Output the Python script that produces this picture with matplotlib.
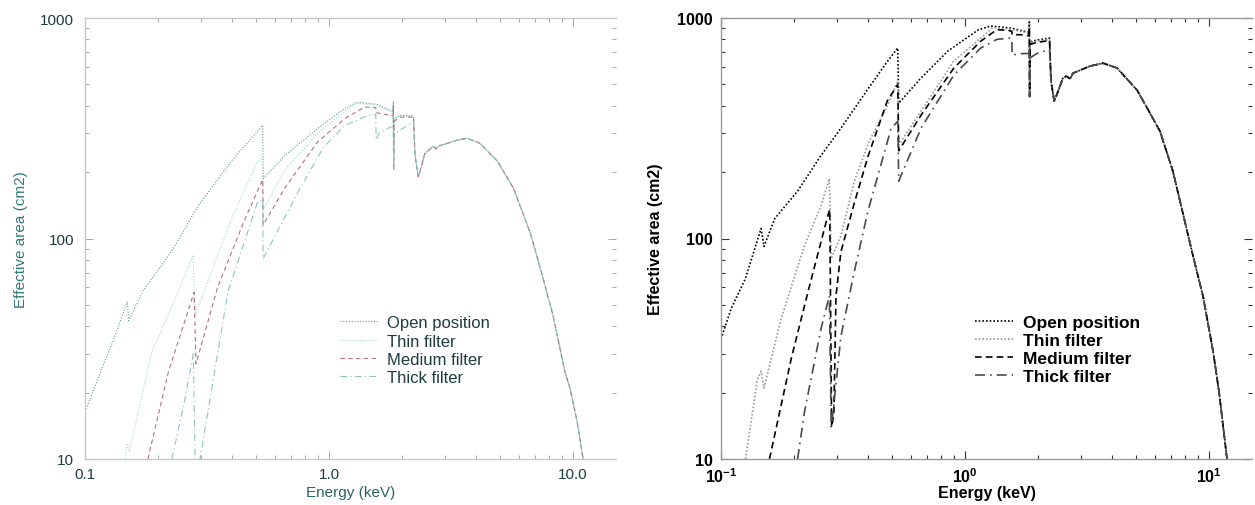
import matplotlib
matplotlib.use('Agg')
import matplotlib.pyplot as plt
from matplotlib.ticker import FixedLocator, FixedFormatter, LogLocator, NullFormatter

plt.rcParams['font.family'] = 'sans-serif'
plt.rcParams['font.sans-serif'] = ['Liberation Sans', 'DejaVu Sans']
plt.rcParams['mathtext.fontset'] = 'custom'
plt.rcParams['mathtext.rm'] = 'Liberation Sans'
plt.rcParams['mathtext.bf'] = 'Liberation Sans:bold'

labels = ['Open position', 'Thin filter', 'Medium filter', 'Thick filter']

# ---- left panel (MOS) : low-energy part per filter ----
mos_open_E = [0.1, 0.11, 0.13, 0.149, 0.151, 0.173, 0.207, 0.23, 0.29, 0.40, 0.535, 0.537,
              0.66, 0.90, 1.16, 1.30, 1.57, 1.78, 1.83, 1.835, 1.84, 1.85, 1.95, 2.22]
mos_open_A = [16.4, 21.5, 34, 51.7, 42.4, 58, 76, 90, 140, 226, 326, 187,
              238, 316, 389, 415, 406, 382, 378, 420, 204, 350, 362, 359]

mos_thin_E = [0.146, 0.149, 0.152, 0.155, 0.188, 0.234, 0.277, 0.283, 0.35, 0.404, 0.51, 0.535, 0.537,
              0.66, 0.90, 1.16, 1.30, 1.57, 1.78, 1.83, 1.835, 1.84, 1.85, 1.95, 2.22]
mos_thin_A = [10, 11.8, 10.8, 12, 30.6, 53, 84, 45, 84, 127, 224, 235, 135,
              205, 300, 378, 410, 402, 378, 374, 415, 204, 348, 360, 357]

mos_med_E = [0.181, 0.22, 0.28, 0.285, 0.351, 0.453, 0.535, 0.537,
             0.66, 0.90, 1.16, 1.40, 1.555, 1.56, 1.78, 1.83, 1.835, 1.84, 1.85, 1.95, 2.22]
mos_med_A = [10, 25, 57, 27, 61, 123, 185, 115,
             170, 275, 350, 395, 392, 372, 362, 360, 400, 204, 340, 355, 355]

mos_thick_E = [0.227, 0.255, 0.278, 0.283, 0.296, 0.385, 0.51, 0.535, 0.537,
               0.75, 0.95, 1.16, 1.45, 1.555, 1.56, 1.6, 1.78, 1.83, 1.835, 1.84, 1.85, 2.0, 2.22]
mos_thick_A = [10, 18, 30, 9, 10, 57, 147, 150, 81,
               164, 260, 325, 362, 365, 280, 300, 320, 322, 360, 205, 300, 315, 340]

# shared high-energy part (MOS)
mos_tail_E = [2.25, 2.32, 2.34, 2.47, 2.6, 2.67, 2.75, 2.8, 3.05, 3.3, 3.68, 4.16, 4.9, 5.7,
              6.7, 7.54, 8.28, 9.27, 9.73, 10.4, 11.0]
mos_tail_A = [240, 191, 195, 243, 255, 262, 255, 262, 270, 278, 285, 270, 224, 169,
              105, 66, 44.7, 24.8, 20.8, 14.7, 10]

# ---- right panel (pn) : low-energy part per filter ----
pn_open_E = [0.1, 0.11, 0.126, 0.146, 0.150, 0.166, 0.206, 0.257, 0.31, 0.386, 0.482, 0.53, 0.535,
             0.66, 0.85, 1.13, 1.27, 1.53, 1.73, 1.83, 1.835, 1.84, 1.85, 1.97, 2.22]
pn_open_A = [35, 48, 66, 111, 92, 123, 164, 238, 316, 450, 638, 731, 411,
             534, 708, 882, 920, 901, 873, 860, 960, 447, 780, 794, 811]

pn_thin_E = [0.126, 0.141, 0.146, 0.150, 0.176, 0.22, 0.257, 0.278, 0.283, 0.31, 0.352, 0.405, 0.482,
             0.53, 0.535, 0.66, 0.90, 1.16, 1.30, 1.53, 1.73, 1.83, 1.835, 1.84, 1.85, 1.97, 2.22]
pn_thin_A = [10, 23, 25, 21, 43, 93, 141, 187, 81, 103, 182, 276, 402,
             517, 265, 378, 638, 811, 905, 890, 865, 850, 940, 450, 775, 785, 800]

pn_med_E = [0.158, 0.194, 0.227, 0.274, 0.279, 0.284, 0.29, 0.296, 0.31, 0.352, 0.40, 0.48, 0.53, 0.535,
            0.66, 0.90, 1.16, 1.35, 1.50, 1.555, 1.56, 1.73, 1.83, 1.835, 1.84, 1.85, 1.97, 2.22]
pn_med_A = [10, 28.5, 57, 127, 135, 14, 16, 55, 87, 145, 235, 420, 500, 250,
            362, 593, 785, 885, 880, 870, 840, 840, 830, 900, 440, 760, 775, 790]

pn_thick_E = [0.206, 0.22, 0.257, 0.278, 0.283, 0.289, 0.31, 0.352, 0.40, 0.498, 0.53, 0.535,
              0.66, 0.90, 1.16, 1.35, 1.52, 1.555, 1.56, 1.73, 1.83, 1.835, 1.84, 1.85, 1.97, 2.22]
pn_thick_A = [10, 16.4, 39, 55, 14, 17, 36, 71, 133, 316, 340, 182,
              316, 551, 731, 800, 811, 805, 680, 690, 690, 760, 440, 660, 690, 720]

# shared high-energy part (pn)
pn_tail_E = [2.25, 2.32, 2.36, 2.52, 2.6, 2.7, 2.77, 3.25, 3.68, 4.2, 5.07, 5.73, 6.3, 7.11,
             8.59, 9.44, 10.4, 11.0, 11.85]
pn_tail_A = [520, 419, 440, 534, 545, 530, 562, 605, 624, 593, 471, 370, 306, 202,
             83.7, 55, 30.6, 20, 10]

mos = [(mos_open_E, mos_open_A), (mos_thin_E, mos_thin_A), (mos_med_E, mos_med_A), (mos_thick_E, mos_thick_A)]
pn = [(pn_open_E, pn_open_A), (pn_thin_E, pn_thin_A), (pn_med_E, pn_med_A), (pn_thick_E, pn_thick_A)]

fig = plt.figure(figsize=(12.55, 5.06), dpi=100)
ax1 = fig.add_axes([85 / 1255, 46 / 506, 531 / 1255, 441 / 506])
ax2 = fig.add_axes([721 / 1255, 46 / 506, 531 / 1255, 441 / 506])

left_styles = [dict(color='#5f9696', ls=(0, (1, 1.5))),
               dict(color='#a3d6d3', ls=(0, (1, 1.5))),
               dict(color='#b0707a', ls=(0, (4, 3))),
               dict(color='#8cc4bf', ls=(0, (6, 3, 1, 3)))]
right_styles = [dict(color='black', ls=(0, (1, 1.2))),
                dict(color='#9a9a9a', ls=(0, (1, 1.2))),
                dict(color='black', ls=(0, (4, 2.5))),
                dict(color='#4a4a4a', ls=(0, (6, 3, 1, 3)))]

for (E, A), st, lab in zip(mos, left_styles, labels):
    ax1.plot(E + mos_tail_E, A + mos_tail_A, lw=0.8, label=lab, **st)
for (E, A), st, lab in zip(pn, right_styles, labels):
    ax2.plot(E + pn_tail_E, A + pn_tail_A, lw=1.2, label=lab, **st)

for ax in (ax1, ax2):
    ax.set_xscale('log')
    ax.set_yscale('log')
    ax.set_xlim(0.1, 15)
    ax.set_ylim(10, 1000)
    ax.xaxis.set_major_locator(FixedLocator([0.1, 1, 10]))
    ax.xaxis.set_minor_locator(LogLocator(base=10, subs=range(2, 10)))
    ax.xaxis.set_minor_formatter(NullFormatter())
    ax.yaxis.set_major_locator(FixedLocator([10, 100, 1000]))
    ax.yaxis.set_major_formatter(FixedFormatter(['10', '100', '1000']))
    ax.yaxis.set_minor_locator(LogLocator(base=10, subs=range(2, 10)))
    ax.yaxis.set_minor_formatter(NullFormatter())
    ax.spines['right'].set_visible(False)

# left panel look
ax1.xaxis.set_major_formatter(FixedFormatter(['0.1', '1.0', '10.0']))
for s in ['left', 'top', 'bottom']:
    ax1.spines[s].set_color('#c8c8c8')
    ax1.spines[s].set_linewidth(1.0)
ax1.tick_params(which='both', direction='in', top=True, right=True, color='#a8a8a8', width=0.7,
                labelsize=11, labelcolor='#1d3c40')
ax1.tick_params(which='major', length=6)
ax1.tick_params(which='minor', length=3)
ax1.tick_params(axis='y', pad=8)
ax1.tick_params(axis='x', pad=6)
ax1.set_xlabel('Energy (keV)', fontsize=11, color='#2a6468')
ax1.set_ylabel('Effective area (cm2)', fontsize=11, color='#2f7a7a')
ax1.xaxis.set_label_coords(0.5, -0.06)
ax1.yaxis.set_label_coords(-0.108, 0.5)
leg1 = ax1.legend(loc='upper left', bbox_to_anchor=(0.48, 0.326), frameon=False, fontsize=12,
                  handlelength=2.2, handletextpad=0.6, labelspacing=0.2, borderpad=0, borderaxespad=0)
for t in leg1.get_texts():
    t.set_color('#1d3c40')

# right panel look
ax2.xaxis.set_major_formatter(FixedFormatter([r'$\mathbf{10^{-1}}$', r'$\mathbf{10^{0}}$', r'$\mathbf{10^{1}}$']))
for s in ['left', 'top', 'bottom']:
    ax2.spines[s].set_color('#9a9a9a')
    ax2.spines[s].set_linewidth(1.0)
ax2.tick_params(which='both', direction='in', top=True, right=True, color='#333333', width=0.8,
                labelsize=11.5, labelcolor='black')
ax2.tick_params(which='major', length=6)
ax2.tick_params(which='minor', length=3)
ax2.tick_params(axis='y', pad=6)
ax2.tick_params(axis='x', pad=5)
for t in ax2.get_yticklabels():
    t.set_fontweight('bold')
ax2.set_xlabel('Energy (keV)', fontsize=11.5, fontweight='bold')
ax2.set_ylabel('Effective area (cm2)', fontsize=11.5, fontweight='bold')
ax2.xaxis.set_label_coords(0.5, -0.06)
ax2.yaxis.set_label_coords(-0.11, 0.5)
ax2.legend(loc='upper left', bbox_to_anchor=(0.478, 0.326), frameon=False,
           prop={'size': 12.5, 'weight': 'bold'},
           handlelength=2.2, handletextpad=0.6, labelspacing=0.15, borderpad=0, borderaxespad=0)

fig.savefig('out.png', dpi=100)
